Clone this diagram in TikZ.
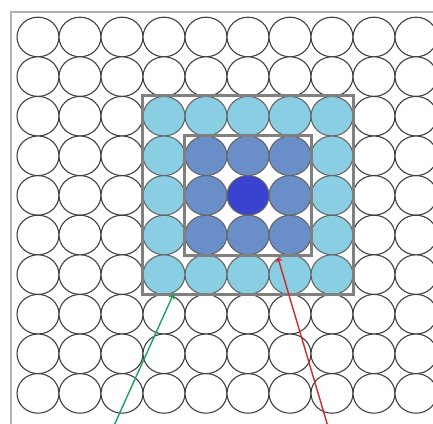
\documentclass[tikz,border=0pt]{standalone}
\usetikzlibrary{positioning,fit,shapes.geometric,arrows}
\definecolor{lightcell}{RGB}{137,206,226}
\definecolor{midcell}{RGB}{106,143,200}
\definecolor{corecell}{RGB}{58,66,208}
\definecolor{greenarrow}{RGB}{30,160,95}
\definecolor{redarrow}{RGB}{210,40,40}
\begin{document}
\begin{tikzpicture}[x=1pt,y=-1pt,
                    cell/.style = {ellipse, draw=black!75, line width=1.1pt, inner sep=0pt,
                                   minimum width=42pt, minimum height=39.6pt},
                    level3/.style = {fill=white},
                    level2/.style = {fill=lightcell, draw=black!60},
                    level1/.style = {fill=midcell, draw=black!60},
                    level0/.style = {fill=corecell, draw=black!60},
                    ring/.style = {draw=black!50, line width=3pt, inner sep=0pt},
                    pointer/.style = {->, >=to, line width=1.4pt}]
    \useasboundingbox (0,0) rectangle (433,423);
    \draw[black!30, line width=1.6pt] (11,12) rectangle (445,440);
    % grid of cells, shaded by distance to the centre cell
    \foreach \i in {1,...,10}
        \foreach \j in {1,...,10}{
            \pgfmathtruncatemacro\d{min(max(abs(\i-6),abs(\j-5)),3)}
            \node[cell, level\d] (c-\i-\j) at ({38+42*(\i-1)}, {37+39.6*(\j-1)}) {};
        }
    \node[ring, fit=(c-4-3)(c-8-7)] (outer) {};
    \node[ring, fit=(c-5-4)(c-7-6)] (inner) {};
    % arrows
    \coordinate (gtail) at (112,430);
    \coordinate (gtip) at (173,295);
    \coordinate (rtail) at (329,430);
    \coordinate (rtip) at (278,258);
    \draw[pointer, greenarrow] (gtail) -- (gtip);
    \draw[pointer, redarrow] (rtail) -- (rtip);
\end{tikzpicture}
\end{document}
